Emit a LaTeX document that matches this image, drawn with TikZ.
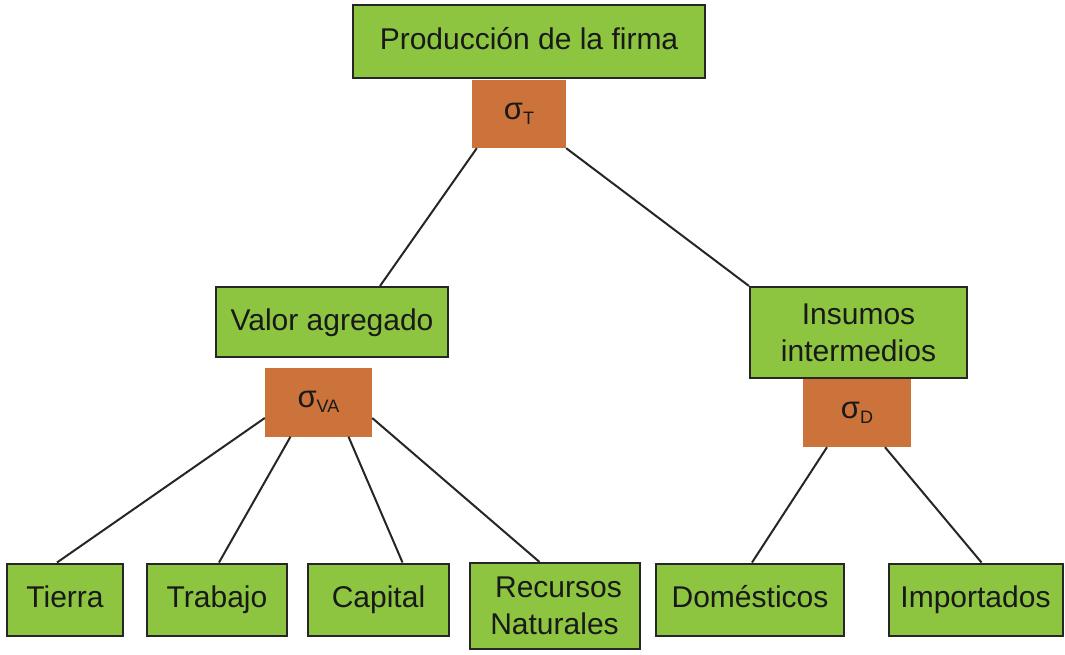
\documentclass[tikz,border=0pt]{standalone}
\usepackage{fontspec}
\setmainfont{Liberation Sans}
\usepackage{tikz}
\usetikzlibrary{calc}

\definecolor{boxgreen}{RGB}{141,197,64}
\definecolor{sigorange}{RGB}{203,115,58}
\newcommand{\sig}[1]{{\fontsize{31}{31}\selectfont σ}\raisebox{-5pt}{\fontsize{18}{18}\selectfont #1}}

\begin{document}
\begin{tikzpicture} [x=1pt, y=-1pt,
	nodes={inner sep=0pt, text=black!90, font=\fontsize{30}{37}\selectfont},
	level/.style={draw=black!85, line width=2pt, fill=boxgreen, align=center},
	oneline/.style={text height=22pt, text depth=6pt},
	elast/.style={fill=sigorange},
	link/.style={line width=2pt, black!85}]
	\useasboundingbox (0,0) rectangle (1065,654);

	% top of the tree
	\node[level, oneline, minimum width=352pt, minimum height=73pt] (firma) at (529,41.5) {Producción de la firma};
	\node[elast, minimum width=94pt, minimum height=68pt] (sT) at (519,114) {\sig{T}};

	% middle
	\node[level, oneline, minimum width=232pt, minimum height=70pt] (valor) at (332,322) {Valor agregado};
	\node[elast, minimum width=107pt, minimum height=69pt] (sVA) at (318.5,402) {\sig{VA}};
	\node[level, minimum width=217pt, minimum height=91pt] (insumos) at (858.5,332.5) {Insumos\\intermedios};
	\node[elast, minimum width=108pt, minimum height=68pt] (sD) at (857,413) {\sig{D}};

	% bottom row
	\node[level, oneline, minimum width=116pt, minimum height=72pt] (tierra) at (65,599.5) {Tierra};
	\node[level, oneline, minimum width=140pt, minimum height=72pt] (trabajo) at (217,599.5) {Trabajo};
	\node[level, oneline, minimum width=141pt, minimum height=72pt] (capital) at (378.5,599.5) {Capital};
	\node[level, minimum width=170pt, minimum height=86pt] (recursos) at (554.5,606) {\hspace*{8pt}Recursos\\Naturales};
	\node[level, oneline, minimum width=188pt, minimum height=72pt] (domesticos) at (750,599.5) {Domésticos};
	\node[level, oneline, minimum width=174pt, minimum height=72pt] (importados) at (975.5,599.5) {Importados};

	% connectors
	\draw[link] ([xshift=5pt]sT.south west) -- ([xshift=48pt]valor.north);
	\draw[link] (sT.south east) -- (insumos.north west);
	\draw[link] ([yshift=-16pt]sVA.west) -- ([xshift=-8pt]tierra.north);
	\draw[link] ([xshift=-28pt]sVA.south) -- ([xshift=2pt]trabajo.north);
	\draw[link] ([xshift=30pt]sVA.south) -- ([xshift=24pt]capital.north);
	\draw[link] ([yshift=-16pt]sVA.east) -- ([xshift=-15pt]recursos.north);
	\draw[link] ([xshift=-30pt]sD.south) -- ([xshift=2pt]domesticos.north);
	\draw[link] ([xshift=28pt]sD.south) -- ([xshift=6pt]importados.north);

\end{tikzpicture}
\end{document}
